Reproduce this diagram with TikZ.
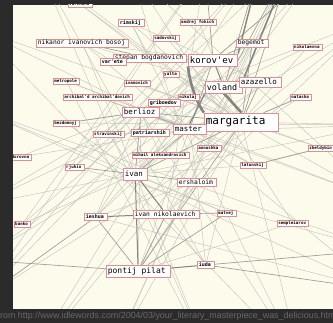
\documentclass[tikz,border=0pt]{standalone}
\usepackage{fontspec}
\setmainfont{DejaVu Sans}
\newfontfamily\lbl{DejaVu Sans Mono}
\newfontfamily\capfont{Liberation Sans}
\pgfdeclarelayer{bg}
\pgfdeclarelayer{edges}
\pgfsetlayers{bg,edges,main}
\definecolor{frame}{RGB}{43,43,43}
\definecolor{cream}{RGB}{253,252,236}
\definecolor{boxc}{RGB}{226,142,142}
\definecolor{elight}{RGB}{196,196,190}
\definecolor{emid}{RGB}{160,160,155}
\definecolor{edark}{RGB}{132,132,130}
\definecolor{capc}{RGB}{105,105,105}
\tikzset{
  box/.style={draw=boxc, fill=white, line width=0.7pt, inner xsep=1.5pt, inner ysep=0.8pt, anchor=west, execute at end node={\hspace{0.35em}}},
  fA/.style={box, font=\lbl\fontsize{11}{12}\selectfont, minimum height=18pt, execute at end node={\hspace{0.7em}}},
  fB/.style={box, font=\lbl\fontsize{9}{10}\selectfont, minimum height=12pt},
  fC/.style={box, font=\lbl\fontsize{7.5}{8}\selectfont, minimum height=10pt},
  fD/.style={box, font=\lbl\fontsize{6.3}{7}\selectfont, minimum height=8pt},
  fE/.style={box, font=\lbl\bfseries\fontsize{5}{6}\selectfont, minimum height=7pt, line width=0.6pt},
  fF/.style={box, font=\lbl\bfseries\fontsize{4.2}{5}\selectfont, minimum height=6pt, line width=0.5pt, inner xsep=1pt},
  el/.style={draw=elight, line width=0.45pt},
  em/.style={draw=emid, line width=0.7pt},
  ed/.style={draw=edark, line width=1pt},
  eth/.style={draw=edark, line width=2.6pt},
}
\begin{document}
\begin{tikzpicture}[x=1pt,y=-1pt]
\useasboundingbox (0,0) rectangle (333,323);
\begin{pgfonlayer}{bg}
\fill[frame] (0,0) rectangle (333,323);
\fill[cream] (13,5) rectangle (333,309);
\end{pgfonlayer}
\begin{scope}
\clip (0,0) rectangle (333,323);
\node[anchor=west, inner sep=0pt, text=capc, font=\capfont\fontsize{8.9}{10}\selectfont] (cap) at (0,316) {rom http://www.idlewords.com/2004/03/your\_literary\_masterpiece\_was\_delicious.html};
\end{scope}
% off-panel coordinates
\coordinate (o1) at (292,-40);
\coordinate (o2) at (262,-40);
\coordinate (o3) at (318,-30);
\coordinate (o4) at (370,20);
\coordinate (o5) at (380,125);
\coordinate (o6) at (380,200);
\coordinate (o7) at (380,290);
\coordinate (o8) at (300,360);
\coordinate (o9) at (210,360);
\coordinate (o10) at (110,360);
\coordinate (o11) at (-20,300);
\coordinate (o12) at (-20,205);
\coordinate (o13) at (-20,110);
\coordinate (o14) at (-20,30);
\coordinate (o15) at (40,-30);
\coordinate (o16) at (130,-30);
\coordinate (o17) at (205,-30);
\coordinate (o18) at (380,250);
\coordinate (o19) at (30,360);
\coordinate (o20) at (-20,260);
\begin{scope}
\clip (13,5) rectangle (333,309);
\node[fD] (ste) at (113,58) {stepan bogdanovich};
\node[fE] (var) at (100,62) {var'ete};
\node[fF] (top) at (68,4) {varenuha};
\node[fE] (rim) at (118,23) {rimskij};
\node[fF] (and) at (180,22) {andrej fokich};
\node[fF] (sad) at (153,38) {sadovskij};
\node[fD] (nik) at (36,43) {nikanor ivanovich bosoj};
\node[fD] (beg) at (236,43) {begemot};
\node[fF] (nkv) at (293,47) {nikolaevna};
\node[fB] (kor) at (188,60) {korov'ev};
\node[fF] (yal) at (163,74) {yalta};
\node[fF] (met) at (53,81) {metropole};
\node[fF] (ivh) at (124,83) {ivanovich};
\node[fB, font=\lbl\fontsize{8.4}{9}\selectfont, execute at end node={\hspace{0.1em}}] (vol) at (205,87) {voland};
\node[fC] (aza) at (239,82) {azazello};
\node[fF] (arc) at (63,97) {archibal'd archibal'dovich};
\node[fF] (nkj) at (178,97) {nikolaj};
\node[fF] (nat) at (290,97) {natasha};
\node[fE] (gri) at (148,103) {griboedov};
\node[fC] (ber) at (122,112) {berlioz};
\node[fF] (bez) at (53,123) {bezdomnyj};
\node[fA] (mar) at (204,122) {margarita};
\node[fC] (mas) at (173,129) {master};
\node[fF] (str) at (93,134) {stravinskij};
\node[fE] (pat) at (131,133) {patriarshih};
\node[fF] (ann) at (197,148) {annushka};
\node[fF] (zhe) at (308,148) {zheldybin};
\node[fF] (mih) at (132,155) {mihail aleksandrovich};
\node[fF, anchor=east] (fed) at (32,157) {fedorovna};
\node[fF] (lat) at (240,165) {latunskij};
\node[fF] (rju) at (65,167) {rjuhin};
\node[fC, minimum height=12pt] (iva) at (123,174) {ivan};
\node[fD] (ers) at (177,182) {ershaloim};
\node[fD] (ivn) at (133,214) {ivan nikolaevich};
\node[fF] (mat) at (217,213) {matvej};
\node[fE] (ies) at (84,217) {ieshua};
\node[fF] (ban) at (14,224) {banko};
\node[fF] (sem) at (277,223) {sempleiarov};
\node[fC, font=\lbl\fontsize{8}{9}\selectfont, minimum height=12pt] (pon) at (106,271) {pontij pilat};
\node[fE] (iud) at (197,265) {iuda};
\end{scope}
\begin{pgfonlayer}{edges}
\clip (13,5) rectangle (333,309);
% light background web
\foreach \a/\b in {o15/mar, o16/ers, o17/ivn, o14/lat, o13/mat, o12/beg, o11/kor, o20/vol, o19/aza, o10/mar, o9/nik, o8/ber, o7/nik, o6/met, o5/bez, o18/rju, o4/fed, o3/ban, o2/ies, o1/pon, o15/iud, o16/sem, o17/ban, o14/zhe, o11/nat, o19/kor, o10/beg, o9/met, o8/rim, o7/ies, o6/arc, o5/str, o4/ivn, o3/ies, o2/rju, o1/str, o12/nkv, o13/o7, o14/o8, o15/o9, o16/o6, o17/o11, o20/o4, o19/o3, o10/o1, o12/o5, o13/o18, o11/o2, o5/mar, o6/mar, o4/mar, o8/mar}
  \draw[el] (\a) -- (\b);
\foreach \a/\b in {nik/kor, nik/vol, rim/mar, rim/kor, and/mar, sad/mar, met/mas, arc/mas, arc/ber, ivh/mar, yal/mar, nkj/mar, nat/mar, nkv/mar, zhe/mar, ann/mar, lat/mas, rju/ber, bez/iva, str/iva, pat/ber, mih/ber, mih/iva, gri/ber, fed/mar, ban/iva, sem/pon, ers/pon, ers/ies, ers/mas, ers/iud, iud/iva, mat/iva, ies/ber, var/kor, ste/kor, ste/rim, var/nik, beg/vol, aza/kor, mar/iud, mar/ivn, mas/pon, mas/ies, kor/iva, vol/iva, ber/pon, lat/iva, zhe/lat, bez/ber, gri/mas, top/mar, top/ste}
  \draw[el] (\a) -- (\b);
% medium edges
\foreach \a/\b in {o1/vol, o2/vol, o3/kor, o1/mar, o17/kor, mar/beg, mar/aza, kor/beg, vol/aza, mar/nat, ber/mas, ber/mar, iva/mas, iva/ber, iva/mar, ivn/mat, pon/mat, pon/ies, pon/mar, iud/o7, iud/o18, ivn/pon, rju/iva, nik/ste, lat/zhe, ers/iva, bez/ber, o11/ies, o20/pon, mas/kor}
  \draw[em] (\a) -- (\b);
% darker edges
\foreach \a/\b in {mar/mas, iva/ivn, ies/ivn, iud/pon, iva/pon, kor/vol}
  \draw[ed] (\a) -- (\b);
% thick edges
\draw[eth] (kor.south west) .. controls (190,88) and (200,108) .. (mar.north west);
\draw[eth] (vol.south) -- (mar.north);
\draw[ed, line width=1.6pt] (o1) -- (vol.north east);
\draw[ed, line width=1.4pt] (o2) -- (kor.north east);
\draw[ed, line width=1.2pt] (mas.north) -- (vol.south west);
\end{pgfonlayer}
\end{tikzpicture}
\end{document}
